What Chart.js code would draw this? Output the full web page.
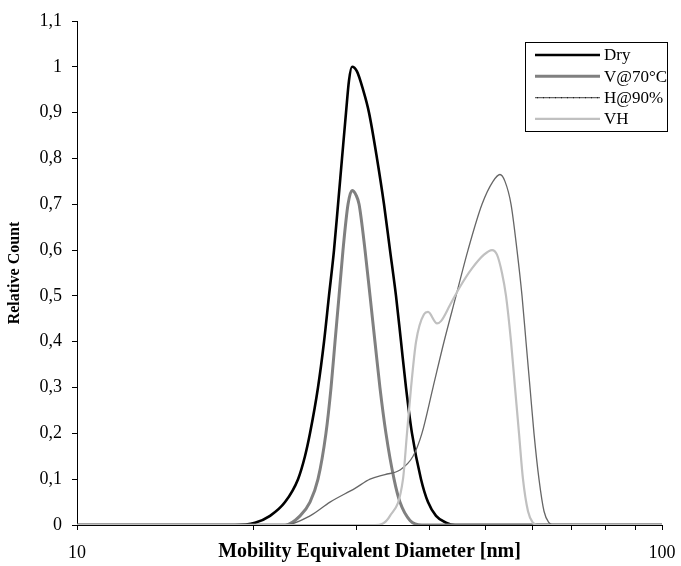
<!DOCTYPE html>
<html><head><meta charset="utf-8">
<script src="https://cdn.jsdelivr.net/npm/chart.js@4.4.0/dist/chart.umd.min.js"></script>
<style>html,body{margin:0;padding:0;background:#fff;}canvas{display:block;}</style>
</head><body>
<canvas id="c" width="681" height="566"></canvas>
<script>
const seriesNames = ['Dry', 'V@70°C', 'H@90%', 'VH'];

const dryDiam = [10, 18.62, 20.15, 21.38, 22.68, 23.87, 24.53, 25.02, 25.82, 26.44, 26.96, 27.50, 27.94, 28.38, 28.83, 29.17, 29.52, 30.10, 30.83, 31.56, 32.57, 33.48, 34.28, 35.10, 35.80, 36.51, 37.38, 38.73, 39.81, 41.09, 42.74, 44.28, 100];
const dryCount = [0, 0, 0.005, 0.02, 0.05, 0.10, 0.15, 0.20, 0.30, 0.40, 0.50, 0.60, 0.70, 0.80, 0.90, 0.97, 1.0, 0.99, 0.95, 0.90, 0.80, 0.70, 0.60, 0.50, 0.40, 0.30, 0.20, 0.10, 0.05, 0.02, 0.005, 0, 0];

const vDiam = [10, 22.68, 24.06, 25.02, 25.82, 26.64, 27.18, 27.61, 28.05, 28.49, 29.06, 29.52, 29.99, 30.35, 31.07, 31.69, 32.31, 32.95, 33.74, 34.83, 35.65, 37.09, 38.87, 100];
const vCount = [0, 0, 0.02, 0.05, 0.10, 0.20, 0.30, 0.40, 0.50, 0.60, 0.70, 0.73, 0.72, 0.70, 0.60, 0.50, 0.40, 0.30, 0.20, 0.10, 0.05, 0.01, 0, 0];

const hDiam = [10, 22.68, 25.02, 27.07, 29.87, 31.69, 33.61, 35.65, 37.53, 38.87, 40.60, 42.40, 44.45, 46.60, 49.24, 51.42, 52.84, 53.90, 55.20, 56.51, 57.64, 58.55, 59.48, 60.42, 61.62, 62.85, 64.10, 65.12, 100];
const hCount = [0, 0, 0.02, 0.05, 0.08, 0.10, 0.11, 0.12, 0.15, 0.20, 0.30, 0.40, 0.50, 0.60, 0.70, 0.75, 0.765, 0.75, 0.70, 0.60, 0.50, 0.40, 0.30, 0.20, 0.10, 0.03, 0.005, 0, 0];

const vhDiam = [10, 32.31, 34.28, 36.08, 36.65, 37.24, 37.98, 39.19, 39.81, 41.25, 41.90, 43.41, 45.16, 47.34, 49.63, 51.22, 52.23, 53.27, 54.12, 55.20, 56.07, 56.96, 57.86, 59.01, 60.18, 61.13, 100];
const vhCount = [0, 0, 0.02, 0.10, 0.20, 0.30, 0.40, 0.46, 0.465, 0.44, 0.445, 0.48, 0.52, 0.56, 0.59, 0.60, 0.59, 0.55, 0.50, 0.40, 0.30, 0.20, 0.10, 0.03, 0.005, 0, 0];

const yTicks = [0, 0.1, 0.2, 0.3, 0.4, 0.5, 0.6, 0.7, 0.8, 0.9, 1, 1.1];
const xTicks = [10, 20, 30, 40, 50, 60, 70, 80, 90, 100];
const xTickLabels = [10, 100];
const xTitle = 'Mobility Equivalent Diameter [nm]';
const yTitle = 'Relative Count';

const FONT = '"Liberation Serif", "Times New Roman", serif';

function pts(xs, ys) { return xs.map((x, i) => ({ x: x, y: ys[i] })); }
function fmt(v) { const r = Math.round(v * 10) / 10; return String(r).replace('.', ','); }

const styles = [
  { color: '#000000', width: 2.6 },
  { color: '#808080', width: 3 },
  { color: '#666666', width: 1.3 },
  { color: '#c0c0c0', width: 2.2 }
];
const dataSets = [pts(dryDiam, dryCount), pts(vDiam, vCount), pts(hDiam, hCount), pts(vhDiam, vhCount)];

const legendPlugin = {
  id: 'boxLegend',
  afterDraw(chart) {
    const ctx = chart.ctx;
    const L = 525, T = 42, R = 668, B = 132;
    ctx.save();
    ctx.fillStyle = '#fff';
    ctx.fillRect(L, T, R - L, B - T);
    ctx.strokeStyle = '#000';
    ctx.lineWidth = 1;
    ctx.strokeRect(L + 0.5, T + 0.5, R - L - 1, B - T - 1);
    ctx.font = '17px ' + FONT;
    ctx.textBaseline = 'middle';
    chart.data.datasets.forEach((ds, i) => {
      const y = 55 + i * 21.3;
      ctx.strokeStyle = ds.borderColor;
      ctx.lineWidth = ds.borderWidth;
      ctx.beginPath(); ctx.moveTo(535, y); ctx.lineTo(600, y); ctx.stroke();
      if (i === 2) {
        ctx.strokeStyle = '#222';
        ctx.lineWidth = 1.3;
        ctx.setLineDash([1, 5]);
        ctx.beginPath(); ctx.moveTo(537, y); ctx.lineTo(600, y); ctx.stroke();
        ctx.setLineDash([]);
      }
      ctx.fillStyle = '#000';
      ctx.fillText(ds.label, 604, y + 1);
    });
    ctx.restore();
  }
};

new Chart(document.getElementById('c'), {
  type: 'line',
  data: {
    datasets: seriesNames.map((n, i) => ({
      label: n,
      data: dataSets[i],
      borderColor: styles[i].color,
      borderWidth: styles[i].width,
      pointRadius: 0,
      fill: false,
      cubicInterpolationMode: 'monotone',
      order: 4 - i
    }))
  },
  options: {
    responsive: false,
    animation: false,
    devicePixelRatio: 1,
    layout: { padding: { top: 21, right: 19, bottom: 0, left: 0 } },
    plugins: { legend: { display: false }, tooltip: { enabled: false } },
    scales: {
      x: {
        type: 'logarithmic', min: 10, max: 100,
        afterBuildTicks: s => { s.ticks = xTicks.map(v => ({ value: v })); },
        ticks: {
          autoSkip: false, maxRotation: 0, minRotation: 0,
          callback: v => xTickLabels.includes(v) ? String(v) : '',
          font: { family: FONT, size: 18 }, color: '#000', padding: 12
        },
        grid: { drawOnChartArea: false, tickLength: 5, color: '#000' },
        border: { display: true, color: '#000', width: 1 },
        title: { display: true, text: xTitle, color: '#000', font: { family: FONT, size: 20, weight: 'bold' }, padding: { top: 0, bottom: 2 } },
        afterFit: s => { s.height = 41; s.paddingLeft = 0; s.paddingRight = 0; }
      },
      y: {
        min: 0, max: 1.1,
        afterBuildTicks: s => { s.ticks = yTicks.map(v => ({ value: v })); },
        ticks: { callback: v => fmt(v), font: { family: FONT, size: 18 }, color: '#000', padding: 10 },
        grid: { drawOnChartArea: false, tickLength: 5, color: '#000' },
        border: { display: true, color: '#000', width: 1 },
        title: { display: true, text: yTitle, color: '#000', font: { family: FONT, size: 16, weight: 'bold' }, padding: { top: 5, bottom: 0 } },
        afterFit: s => { s.width = 77; s.paddingTop = 0; s.paddingBottom = 0; }
      }
    }
  },
  plugins: [legendPlugin]
});
</script>
</body></html>
